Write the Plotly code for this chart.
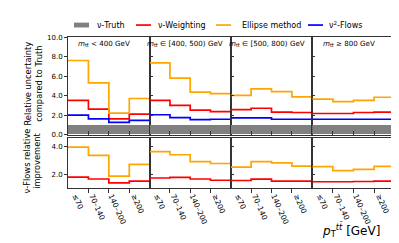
import plotly.graph_objects as go

# ---------------- data ----------------
mass_labels = ["<i>m</i><sub>tt̄</sub> < 400 GeV",
               "<i>m</i><sub>tt̄</sub> ∈ [400, 500) GeV",
               "<i>m</i><sub>tt̄</sub> ∈ [500, 800) GeV",
               "<i>m</i><sub>tt̄</sub> ≥ 800 GeV"]
pt_labels = ["≤70", "70–140", "140–200", "≥200"]

truth_unc = [1.0, 1.0, 1.0, 1.0]
nuw_unc = [[3.5, 2.6, 1.6, 2.1], [3.5, 3.0, 2.5, 2.35],
           [2.55, 2.7, 2.3, 2.26], [2.16, 2.16, 2.26, 2.29]]
ell_unc = [[7.6, 5.3, 2.2, 3.7], [7.35, 5.8, 4.35, 4.2],
           [4.02, 4.69, 4.41, 3.86], [3.63, 3.37, 3.5, 3.83]]
flow_unc = [[2.0, 1.6, 1.25, 1.45], [2.03, 1.74, 1.54, 1.57],
            [1.7, 1.7, 1.57, 1.57], [1.57, 1.57, 1.57, 1.57]]
nuw_imp = [[1.79, 1.65, 1.37, 1.49], [1.72, 1.77, 1.65, 1.56],
           [1.54, 1.64, 1.49, 1.49], [1.45, 1.45, 1.47, 1.49]]
ell_imp = [[3.95, 3.35, 1.86, 2.7], [3.62, 3.4, 2.91, 2.77],
           [2.51, 2.9, 2.82, 2.58], [2.54, 2.26, 2.35, 2.56]]

# ---------------- layout helpers ----------------
W, H = 399, 243
FONT = "DejaVu Sans"
ORANGE, RED, BLUE, GRAY = "#FFA500", "#FF0000", "#0000FF", "#808080"


def px(x):
    return x / W


def py(y):
    return 1 - y / H


panel_edges = [60, 141.7, 222.7, 304.3, 386.7]
top_dom = [py(126.7), py(26)]
bot_dom = [py(181.7), py(130.7)]
label_shift = [0.12, 0.3, 0.36, 0.24]

edges = [0, 1, 2, 3, 4]


def step(vals):
    return list(vals) + [vals[-1]]


fig = go.Figure()

for i in range(4):
    xt = "x" if i == 0 else f"x{i + 1}"
    yt = "y" if i == 0 else f"y{i + 1}"
    xb = f"x{i + 5}"
    yb = f"y{i + 5}"
    # truth band
    fig.add_trace(go.Bar(x=[2], y=[truth_unc[i]], width=[4],
                         marker=dict(color=GRAY, line=dict(width=0)),
                         xaxis=xt, yaxis=yt, showlegend=False, hoverinfo="skip"))
    for vals, col in [(nuw_unc[i], RED), (ell_unc[i], ORANGE), (flow_unc[i], BLUE)]:
        fig.add_trace(go.Scatter(x=edges, y=step(vals), mode="lines",
                                 line=dict(color=col, width=1.7, shape="hv"),
                                 xaxis=xt, yaxis=yt, showlegend=False))
    for vals, col in [(nuw_imp[i], RED), (ell_imp[i], ORANGE)]:
        fig.add_trace(go.Scatter(x=edges, y=step(vals), mode="lines",
                                 line=dict(color=col, width=1.7, shape="hv"),
                                 xaxis=xb, yaxis=yb, showlegend=False))

layout = dict(width=W, height=H, margin=dict(l=0, r=0, t=0, b=0),
              paper_bgcolor="white", plot_bgcolor="white", bargap=0,
              font=dict(family=FONT, size=7, color="black"))

axis_common = dict(showgrid=False, zeroline=False, showline=True, linecolor="#333",
                   linewidth=0.8, mirror=True)

for i in range(4):
    dom = [px(panel_edges[i]), px(panel_edges[i + 1])]
    # top x
    layout["xaxis" if i == 0 else f"xaxis{i + 1}"] = dict(
        axis_common, domain=dom, range=[0, 4], anchor="y" if i == 0 else f"y{i + 1}",
        tickvals=[1, 2, 3], ticks="inside", ticklen=4, tickcolor="#333",
        showticklabels=False)
    # top y
    layout["yaxis" if i == 0 else f"yaxis{i + 1}"] = dict(
        axis_common, domain=top_dom, range=[0, 10],
        anchor="x" if i == 0 else f"x{i + 1}",
        tickvals=[0, 2, 4, 6, 8, 10], ticktext=["0.0", "2.0", "4.0", "6.0", "8.0", "10.0"],
        ticks="outside" if i == 0 else "inside", ticklen=3, tickcolor="#333",
        showticklabels=(i == 0), tickfont=dict(size=7))
    # bottom x
    layout[f"xaxis{i + 5}"] = dict(
        axis_common, domain=dom, range=[0, 4], anchor=f"y{i + 5}",
        tickvals=[k + 0.5 - label_shift[k] for k in range(4)], ticktext=pt_labels,
        ticks="", tickangle=66, tickfont=dict(size=7.5),
        minor=dict(tickvals=[1, 2, 3], ticks="outside", ticklen=4, tickcolor="#333"))
    # bottom y
    layout[f"yaxis{i + 5}"] = dict(
        axis_common, domain=bot_dom, range=[1.02, 4.58], anchor=f"x{i + 5}",
        tickvals=[2, 4], ticktext=["2.0", "4.0"],
        ticks="outside" if i == 0 else "inside", ticklen=3, tickcolor="#333",
        showticklabels=(i == 0), tickfont=dict(size=7))

fig.update_layout(**layout)

ann = []
for i in range(4):
    ann.append(dict(x=px((panel_edges[i] + panel_edges[i + 1]) / 2 - 5), y=py(33),
                    xref="paper", yref="paper", text=mass_labels[i], showarrow=False,
                    font=dict(size=7.1), xanchor="center", yanchor="middle"))
ann.append(dict(x=px(26), y=py(74), xref="paper", yref="paper", textangle=-90,
                text="Relative uncertainty<br>compared to Truth", showarrow=False,
                font=dict(size=8.3), xanchor="center", yanchor="middle"))
ann.append(dict(x=px(24.5), y=py(154), xref="paper", yref="paper", textangle=-90,
                text="ν-Flows relative<br>improvement", showarrow=False,
                font=dict(size=8.3), xanchor="center", yanchor="middle"))
ann.append(dict(x=px(374), y=py(225), xref="paper", yref="paper",
                text="<i>p</i><sub>T</sub><sup><i>tt̄</i></sup> [GeV]", showarrow=False,
                font=dict(size=12), xanchor="right", yanchor="middle"))

# manual legend
shapes = []
shapes.append(dict(type="rect", xref="paper", yref="paper", x0=px(66), x1=px(81),
                   y0=py(16), y1=py(11), fillcolor=GRAY, line=dict(width=0)))
leg = [(128, 148, RED, "ν-Weighting"), (208, 232, ORANGE, "Ellipse method"),
       (300, 319, BLUE, "ν<sup>2</sup>-Flows")]
ann.append(dict(x=px(87), y=py(13.5), xref="paper", yref="paper", text="ν-Truth",
                showarrow=False, font=dict(size=8), xanchor="left", yanchor="middle"))
for x0, xt, col, txt in leg:
    shapes.append(dict(type="line", xref="paper", yref="paper", x0=px(x0), x1=px(x0 + 15),
                       y0=py(13.5), y1=py(13.5), line=dict(color=col, width=1.7)))
    ann.append(dict(x=px(xt), y=py(13.5), xref="paper", yref="paper", text=txt,
                    showarrow=False, font=dict(size=8), xanchor="left", yanchor="middle"))

fig.update_layout(annotations=ann, shapes=shapes)
fig.write_html("out.html")
